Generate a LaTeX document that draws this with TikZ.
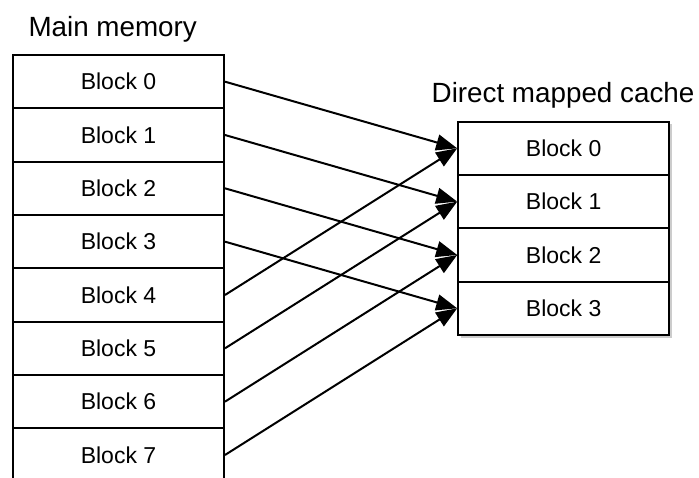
\documentclass[tikz,border=0pt]{standalone}
\usepackage{fontspec}
\setmainfont{Liberation Sans}
\usetikzlibrary{arrows.meta}
\tikzset{
  blk/.style={draw=black, line width=2pt, minimum width=211pt, minimum height=53.33pt, inner sep=0pt, font=\fontsize{23}{27}\selectfont, fill=white},
  ttl/.style={anchor=base west, inner sep=0pt, font=\fontsize{27.8}{33}\selectfont},
  link/.style={line width=2pt, -{Triangle[length=21pt,width=16pt]}},
  shd/.style={fill=black!20, draw=none}
}
\begin{document}
\begin{tikzpicture}[x=1pt,y=-1pt]
\useasboundingbox (0,0) rectangle (699,477);
\clip (0,0) rectangle (699,477);
\node[ttl] (tm) at (28.3,36.7) {Main memory};
\node[ttl] (tc) at (431.5,102.5) {Direct mapped cache};
% cache shadow
\fill[shd] (460.5,123.7) rectangle (671.5,337.5);
\foreach \i in {0,...,7}{
  \node[blk] (m\i) at (118.5,{81.67+53.33*\i}) {Block \i};
}
\foreach \j in {0,...,3}{
  \node[blk] (c\j) at (563.7,{148.3+53.33*\j}) {Block \j};
}
\foreach \i/\j in {0/0,1/1,2/2,3/3,4/0,5/1,6/2,7/3}{
  \draw[link] (m\i.east) -- (c\j.west);
}
\end{tikzpicture}
\end{document}
